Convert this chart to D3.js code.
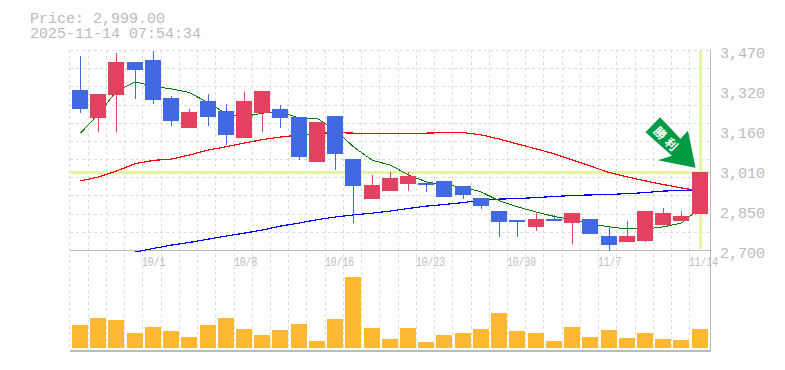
<!DOCTYPE html>
<html>
<head>
<meta charset="utf-8">
<script src="https://d3js.org/d3.v7.min.js"></script>
<style>
  html, body { margin: 0; padding: 0; background: #fff; overflow: hidden; }
  text { font-family: "Liberation Mono", monospace; fill: #bbb; }
</style>
</head>
<body>
<div id="chart"></div>
<script>
var title = ["Price: 2,999.00", "2025-11-14 07:54:34"];
var lastPrice = 2999;

var dates = ["9/25","9/26","9/29","9/30","10/1","10/2","10/3","10/6","10/7","10/8","10/9","10/10","10/14","10/15","10/16","10/17","10/20","10/21","10/22","10/23","10/24","10/27","10/28","10/29","10/30","10/31","11/4","11/5","11/6","11/7","11/10","11/11","11/12","11/13","11/14"];
var dateTicks = ["10/1","10/8","10/16","10/23","10/30","11/7","11/14"];
var priceTicks = [3470, 3316, 3162, 3008, 2854, 2700];

var opens  = [3316,3208,3297,3424,3431,3285,3170,3274,3235,3131,3227,3243,3212,3039,3216,3050,2896,2927,2954,2958,2966,2946,2900,2850,2816,2789,2819,2804,2819,2754,2731,2735,2796,2812,2839];
var highs  = [3447,3301,3458,3424,3466,3293,3243,3301,3262,3308,3312,3258,3212,3193,3216,3050,2989,3000,3000,2958,2966,2946,2900,2850,2816,2846,2835,2842,2819,2792,2812,2850,2862,2850,2999];
var lows   = [3227,3154,3154,3281,3262,3177,3170,3177,3104,3131,3154,3170,3047,3039,3008,2804,2896,2927,2927,2923,2904,2896,2858,2750,2750,2773,2812,2723,2762,2696,2731,2731,2796,2812,2839];
var closes = [3243,3301,3424,3393,3277,3197,3231,3212,3143,3274,3312,3208,3058,3193,3070,2946,2950,2977,2985,2950,2904,2912,2869,2808,2808,2819,2812,2842,2762,2719,2754,2850,2842,2831,2999];
var volumes = [2300,3000,2800,1500,2100,1700,1100,2300,3000,1900,1300,1800,2400,700,2900,7100,2000,900,2000,600,1300,1500,1900,3500,1700,1500,700,2100,1100,1800,1000,1500,900,800,1900];

var ma5 = [3150,3224,3312,3347,3331,3320,3306,3266,3224,3214,3227,3231,3208,3206,3162,3097,3045,3027,2989,2962,2950,2943,2923,2889,2866,2846,2829,2816,2800,2789,2781,2781,2789,2804,2862];
var ma25 = [2966,2981,3004,3033,3045,3050,3066,3085,3098,3112,3125,3135,3143,3149,3152,3150,3147,3147,3149,3150,3152,3152,3143,3127,3108,3089,3070,3047,3023,2998,2981,2966,2952,2939,2927];
var ma75 = [null,null,null,2692,2706,2719,2729,2742,2754,2765,2777,2792,2804,2817,2827,2835,2842,2850,2860,2869,2875,2883,2891,2896,2898,2902,2906,2910,2912,2914,2917,2921,2927,2929,2933];

var gridColor = "#ddd", axisColor = "#bbb", hiColor = "#e4f5a5";
var upColor = "#e2425f", downColor = "#4169e1", volColor = "#ffb833";

var margin = { top: 50, right: 75, left: 71 },
  width = 785, height = 370,
  priceBottom = 250, volBottom = 350, right = width - margin.right;

var svg = d3.select("#chart").append("svg")
  .attr("width", width)
  .attr("height", height)
  .style("display", "block");

var x = d3.scaleBand()
  .domain(d3.range(dates.length))
  .range([margin.left, right - 1])
  .paddingInner(0.12)
  .paddingOuter(0.06);

var step = x.step();
// left pixel of the 16px candle body, centre pixel and grid column of a slot
function left(i) { return Math.floor(x(i) + x.bandwidth() / 2 - 8 + 0.3); }
function cx(i) { return left(i) + 8.5; }
function cell(i) { return x(i) + x.bandwidth() / 2 - step / 2 - 1; }

var y = d3.scaleLinear().domain([2700, 3470]).range([priceBottom, margin.top]);
var yVol = d3.scaleLinear().domain([0, 7100]).range([348, 277]);

// grid
var grid = svg.append("g")
  .attr("stroke", gridColor)
  .attr("stroke-dasharray", "3,3")
  .attr("shape-rendering", "crispEdges");

grid.selectAll(".v").data(d3.range(dates.length))
  .enter().append("line")
  .attr("x1", function (d) { return Math.floor(cell(d)) + 0.5; })
  .attr("x2", function (d) { return Math.floor(cell(d)) + 0.5; })
  .attr("y1", margin.top)
  .attr("y2", volBottom);

grid.selectAll(".h").data(d3.range(11))
  .enter().append("line")
  .attr("x1", margin.left - 1)
  .attr("x2", right)
  .attr("y1", function (d) { return Math.round(margin.top + d * (priceBottom - margin.top) / 11) + 0.5; })
  .attr("y2", function (d) { return Math.round(margin.top + d * (priceBottom - margin.top) / 11) + 0.5; });

// current price highlight
svg.append("line")
  .attr("x1", margin.left - 1).attr("x2", right)
  .attr("y1", Math.floor(y(lastPrice)) + 0.5).attr("y2", Math.floor(y(lastPrice)) + 0.5)
  .attr("stroke", hiColor).attr("stroke-width", 3)
  .attr("shape-rendering", "crispEdges");

svg.append("line")
  .attr("x1", cx(dates.length - 1)).attr("x2", cx(dates.length - 1))
  .attr("y1", margin.top + 1).attr("y2", priceBottom - 1)
  .attr("stroke", hiColor).attr("stroke-width", 3)
  .attr("shape-rendering", "crispEdges");

// frame
var frame = svg.append("g").attr("stroke", axisColor).attr("shape-rendering", "crispEdges");
frame.append("line").attr("x1", margin.left - 1).attr("x2", right).attr("y1", priceBottom + 0.5).attr("y2", priceBottom + 0.5);
frame.append("line").attr("x1", margin.left - 1).attr("x2", right + 1).attr("y1", volBottom + 0.5).attr("y2", volBottom + 0.5).attr("stroke-width", 2);
frame.append("line").attr("x1", right + 0.5).attr("x2", right + 0.5).attr("y1", margin.top).attr("y2", volBottom);

// moving averages, under the candles
var line = d3.line()
  .defined(function (d) { return d != null; })
  .x(function (d, i) { return cx(i); })
  .y(function (d) { return y(d); });

[[ma75, "#0000ff", 1.2], [ma25, "#ff0000", 1.2], [ma5, "#008000", 1]].forEach(function (s) {
  svg.append("path")
    .attr("d", line(s[0]))
    .attr("fill", "none")
    .attr("stroke", s[1])
    .attr("stroke-width", s[2])
    .attr("shape-rendering", "crispEdges");
});

// candles
function candleColor(i) { return closes[i] > opens[i] ? upColor : downColor; }

var candles = svg.append("g").attr("shape-rendering", "crispEdges");

candles.selectAll(".wick").data(d3.range(dates.length))
  .enter().append("line")
  .attr("x1", cx).attr("x2", cx)
  .attr("y1", function (i) { return y(highs[i]); })
  .attr("y2", function (i) { return y(lows[i]); })
  .attr("stroke", candleColor);

candles.selectAll(".body").data(d3.range(dates.length))
  .enter().append("rect")
  .attr("x", left)
  .attr("width", 16)
  .attr("y", function (i) { return y(Math.max(opens[i], closes[i])); })
  .attr("height", function (i) { return Math.abs(y(opens[i]) - y(closes[i])); })
  .attr("fill", candleColor);

// volume
svg.append("g").attr("shape-rendering", "crispEdges")
  .selectAll("rect").data(volumes)
  .enter().append("rect")
  .attr("x", function (d, i) { return left(i); })
  .attr("width", 16)
  .attr("y", function (d) { return yVol(d); })
  .attr("height", function (d) { return yVol(0) - yVol(d); })
  .attr("fill", volColor);

// date labels start on the grid line left of the candle
svg.append("g").selectAll("text").data(dateTicks)
  .enter().append("text")
  .attr("x", function (d) { return Math.floor(cell(dates.indexOf(d))); })
  .attr("y", 266)
  .attr("textLength", function (d) { return d.length * 5.8; })
  .attr("lengthAdjust", "spacingAndGlyphs")
  .style("font-size", "13px")
  .text(function (d) { return d; });

// price axis
svg.append("g")
  .attr("transform", "translate(" + (right + 10) + ",3)")
  .call(d3.axisRight(y).tickValues(priceTicks).tickSize(0).tickPadding(0)
    .tickFormat(function (d) { return d3.format(",")(Math.round(d / 10) * 10); }))
  .call(function (g) { g.select(".domain").remove(); })
  .selectAll("text")
  .style("font-size", "15px")
  .style("font-family", '"Liberation Mono", monospace');

// title
svg.selectAll(".title").data(title)
  .enter().append("text")
  .attr("x", 30)
  .attr("y", function (d, i) { return 23 + i * 15; })
  .style("font-size", "15px")
  .text(function (d) { return d; });

// signal arrow, anchored on the last candle
var tipX = cx(dates.length - 1) - 5, tipY = y(lastPrice) - 4.5;
var arrow = svg.append("g").attr("transform", "translate(" + tipX + "," + tipY + ")");
arrow.append("path")
  .attr("d", "M0,0L-37.5,-7.5L-23.5,-12L-50,-35.5L-35.5,-50.5L-15,-29L-7.5,-37Z")
  .attr("fill", "#009a44");
arrow.append("text")
  .attr("transform", "translate(-28.5,-27.5) rotate(45)")
  .attr("text-anchor", "middle")
  .attr("dy", "0.35em")
  .style("font-family", '"Noto Sans CJK JP", sans-serif')
  .style("font-size", "12px")
  .style("font-weight", "bold")
  .style("letter-spacing", "4px")
  .style("fill", "#fff")
  .text("勝利");
</script>
</body>
</html>
